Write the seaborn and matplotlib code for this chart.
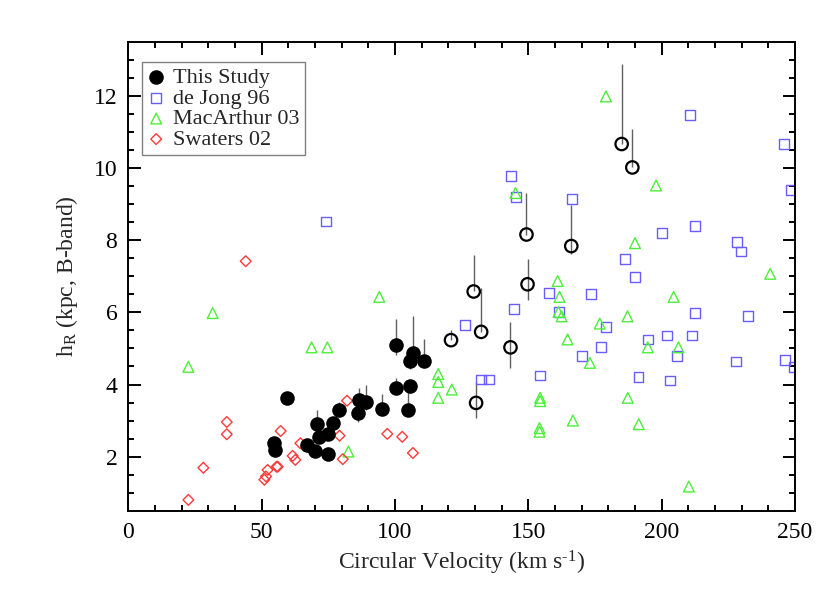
import matplotlib
matplotlib.use("Agg")
import matplotlib.pyplot as plt
import seaborn as sns
import numpy as np

# This Study, filled circles (x, y, error bar low/high)
study_x = [59.4, 54.6, 55.1, 66.8, 69.8, 70.7, 71.6, 74.9, 74.7, 76.8, 79.1,
           86.3, 86.0, 89.0, 95.1, 100.3, 106.7, 105.7, 110.7, 100.5, 105.8, 104.7]
study_y = [3.62, 2.37, 2.18, 2.31, 2.15, 2.90, 2.55, 2.64, 2.08, 2.92, 3.30,
           3.56, 3.21, 3.52, 3.33, 5.09, 4.86, 4.66, 4.64, 3.89, 3.96, 3.28]
study_hi = [3.62, 2.37, 2.18, 2.31, 2.15, 3.30, 2.55, 2.64, 2.08, 2.92, 3.52,
            3.90, 3.21, 3.98, 3.75, 5.83, 5.89, 4.66, 5.26, 4.17, 3.96, 3.95]
study_lo = [3.62, 2.37, 2.18, 2.12, 2.15, 2.90, 2.55, 2.64, 2.08, 2.92, 3.30,
            3.56, 2.95, 3.29, 3.33, 4.81, 4.86, 4.42, 4.64, 3.89, 3.96, 3.28]

# This Study, open circles
open_x = [121.0, 129.5, 132.3, 143.3, 130.4, 149.3, 149.7, 185.0, 189.0, 166.1]
open_y = [5.23, 6.58, 5.46, 5.03, 3.49, 8.16, 6.78, 10.67, 10.02, 7.84]
open_hi = [5.52, 7.60, 6.69, 5.73, 4.08, 9.30, 7.49, 12.88, 11.08, 8.99]
open_lo = [5.23, 6.58, 5.46, 4.47, 3.06, 8.16, 6.33, 10.67, 10.02, 7.63]

# de Jong 96
dejong_x = [74.0, 143.5, 145.4, 144.5, 126.2, 132.3, 135.3, 166.4, 210.7, 245.9,
            248.5, 200.0, 212.6, 228.3, 229.8, 186.3, 190.1, 157.8, 173.6, 161.6,
            212.6, 232.3, 179.1, 194.8, 201.9, 211.3, 177.1, 170.0, 205.6, 227.9,
            246.3, 249.5, 154.4, 191.3, 203.1]
dejong_y = [8.52, 9.79, 9.21, 6.10, 5.66, 4.14, 4.14, 9.15, 11.47, 10.67,
            9.40, 8.21, 8.40, 7.96, 7.69, 7.49, 6.99, 6.54, 6.52, 6.01,
            5.99, 5.91, 5.60, 5.25, 5.36, 5.36, 5.03, 4.80, 4.80, 4.64,
            4.69, 4.49, 4.25, 4.20, 4.11]

# MacArthur 03
macarthur_x = [22.5, 31.6, 68.7, 74.6, 82.5, 94.1, 116.2, 116.2, 116.2, 121.3,
               145.2, 179.1, 197.9, 190.0, 240.7, 161.0, 161.7, 204.5, 161.3, 162.5,
               187.2, 176.8, 164.7, 194.8, 206.3, 173.1, 154.4, 154.4, 187.3, 166.7,
               191.4, 154.2, 154.2, 210.2]
macarthur_y = [4.49, 5.98, 5.03, 5.03, 2.14, 6.43, 4.29, 4.07, 3.63, 3.86,
               9.31, 11.99, 9.52, 7.92, 7.07, 6.87, 6.43, 6.43, 6.01, 5.89,
               5.89, 5.69, 5.25, 5.03, 5.03, 4.60, 3.63, 3.54, 3.63, 3.00,
               2.90, 2.79, 2.69, 1.17]

# Swaters 02
swaters_x = [22.5, 28.1, 36.9, 36.9, 51.0, 51.6, 52.2, 55.6, 56.0, 57.1,
             61.6, 62.6, 64.5, 79.2, 80.4, 82.0, 44.0, 97.1, 102.7, 106.7]
swaters_y = [0.80, 1.69, 2.96, 2.62, 1.36, 1.45, 1.63, 1.72, 1.72, 2.71,
             2.02, 1.91, 2.37, 2.58, 1.93, 3.55, 7.42, 2.63, 2.55, 2.10]

sns.set_style("ticks")
plt.rcParams["font.family"] = ["Liberation Serif", "DejaVu Serif"]
plt.rcParams["mathtext.fontset"] = "custom"
plt.rcParams["mathtext.rm"] = "Liberation Serif"
plt.rcParams["mathtext.it"] = "Liberation Serif:italic"

fig = plt.figure(figsize=(8.3, 5.93), dpi=100)
ax = fig.add_axes([0.1547, 0.1388, 0.8031, 0.7904])

# error bars
ax.vlines(study_x, study_lo, study_hi, color="#606060", lw=1, zorder=1)
ax.vlines(open_x, open_lo, open_hi, color="#606060", lw=1, zorder=1)

sns.scatterplot(x=dejong_x, y=dejong_y, marker="s", s=50, facecolors="none",
                edgecolors="#6a5cff", linewidth=1, label="de Jong 96", ax=ax, zorder=2)
sns.scatterplot(x=macarthur_x, y=macarthur_y, marker="^", s=60, facecolors="none",
                edgecolors="#4cf03a", linewidth=1, label="MacArthur 03", ax=ax, zorder=2)
sns.scatterplot(x=swaters_x, y=swaters_y, marker="D", s=30, facecolors="none",
                edgecolors="#ff3a3a", linewidth=1, label="Swaters 02", ax=ax, zorder=2)
sns.scatterplot(x=open_x, y=open_y, marker="o", s=80, facecolors="none",
                edgecolors="black", linewidth=1.6, ax=ax, zorder=3)
sns.scatterplot(x=study_x, y=study_y, marker="o", s=110, color="black",
                edgecolor="black", linewidth=0, label="This Study", ax=ax, zorder=3)

ax.set_xlim(0, 250)
ax.set_ylim(0.5, 13.5)
ax.set_xticks(np.arange(0, 251, 50))
ax.set_xticks(np.arange(0, 251, 10), minor=True)
ax.set_yticks(np.arange(2, 13, 2))
ax.set_yticks(np.arange(0.5, 13.6, 0.5), minor=True)
ax.tick_params(which="both", direction="in", top=True, right=True, width=1.4,
               labelsize=17, colors="black")
ax.tick_params(which="major", length=9, pad=8)
ax.tick_params(which="minor", length=4.5)
for sp in ax.spines.values():
    sp.set_linewidth(1.4)
    sp.set_color("black")

ax.set_xlabel("Circular Velocity (km s$^{\\text{-1}}$)", fontsize=17, labelpad=4)
ax.set_ylabel("h$_{\\mathrm{R}}$ (kpc, B-band)", fontsize=17, labelpad=10)

handles, labels = ax.get_legend_handles_labels()
order = [labels.index(l) for l in ["This Study", "de Jong 96", "MacArthur 03", "Swaters 02"]]
leg = ax.legend([handles[i] for i in order], [labels[i] for i in order],
                loc="upper left", bbox_to_anchor=(0.02, 0.957), borderaxespad=0,
                fontsize=16, frameon=True, fancybox=False, framealpha=1,
                edgecolor="#808080", handlelength=0.8, handletextpad=0.35,
                labelspacing=0.0, borderpad=0.25, scatterpoints=1)
leg.get_frame().set_linewidth(1)

fig.savefig("out.png", dpi=100)
